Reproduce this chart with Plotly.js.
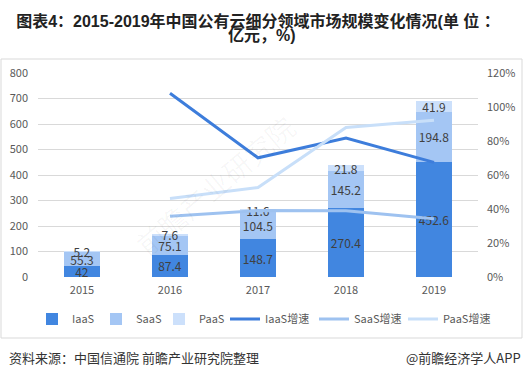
<!DOCTYPE html>
<html>
<head>
<meta charset="utf-8">
<script src="https://cdn.plot.ly/plotly-3.0.1.min.js"></script>
<style>html,body{margin:0;padding:0;background:#fff;}#chart{width:524px;height:378px;}</style>
</head>
<body>
<div id="chart"></div>
<script>
const years = ['2015', '2016', '2017', '2018', '2019'];
const iaas = [42, 87.4, 148.7, 270.4, 452.6];
const saas = [55.3, 75.1, 104.5, 145.2, 194.8];
const paas = [5.2, 7.6, 11.6, 21.8, 41.9];
const growthYears = ['2016', '2017', '2018', '2019'];
const iaasGrowth = [108.1, 70.1, 81.8, 67.4];
const saasGrowth = [35.8, 39.1, 38.9, 34.2];
const paasGrowth = [46.2, 52.6, 87.9, 92.2];
const titleLine1 = '图表4：2015-2019年中国公有云细分领域市场规模变化情况(单 位 ：';
const titleLine2 = '亿元，%)';
const source = '资料来源：中国信通院 前瞻产业研究院整理';
const credit = '@前瞻经济学人APP';

const FONT = 'Liberation Sans, Noto Sans CJK SC, sans-serif';
const CJK = 'Noto Sans CJK SC, sans-serif';
const C1 = '#4186e0', C2 = '#a4c6f4', C3 = '#cce0fb';

function barTrace(name, vals, color, leg) {
  return {
    type: 'bar', name: name, x: years, y: vals, legend: leg,
    marker: {color: color, line: {width: 0}},
    text: vals.map(v => String(v)), textposition: 'inside',
    insidetextanchor: 'middle', textangle: 0, constraintext: 'none',
    textfont: {family: CJK, size: 12, color: '#404040'},
    hoverinfo: 'skip'
  };
}
function lineTrace(name, vals, color) {
  return {
    type: 'scatter', mode: 'lines', name: name, x: growthYears, y: vals,
    yaxis: 'y2', legend: 'legend2', line: {color: color, width: 3}, hoverinfo: 'skip'
  };
}

const data = [
  barTrace('IaaS', iaas, C1, 'legend'),
  barTrace('SaaS', saas, C2, 'legend3'),
  barTrace('PaaS', paas, C3, 'legend4'),
  lineTrace('IaaS增速', iaasGrowth, '#3d7ddb'),
  lineTrace('SaaS增速', saasGrowth, '#9ec2f0'),
  lineTrace('PaaS增速', paasGrowth, '#c8dff9')
];

const legendFont = {family: CJK, size: 11, color: '#595959'};
const legY = (277 - 319) / 204;
function barLegend(px) {
  return {
    orientation: 'h', x: (px - 38) / 440, xanchor: 'left', y: legY, yanchor: 'middle',
    font: legendFont, traceorder: 'normal', itemwidth: 30, bgcolor: 'rgba(0,0,0,0)'
  };
}

const layout = {
  width: 524, height: 378,
  margin: {l: 38, r: 46, t: 73, b: 101},
  paper_bgcolor: '#fff', plot_bgcolor: '#fff',
  barmode: 'stack', bargap: 0.6,
  showlegend: true,
  uniformtext: {mode: 'show', minsize: 12},
  font: {family: CJK, color: '#595959', size: 11},
  title: {
    text: '<b>' + titleLine1 + '</b>',
    font: {family: FONT, size: 16, color: '#222'},
    x: 0.5, xref: 'paper', xanchor: 'center',
    y: 1 - 21 / 378, yref: 'container', yanchor: 'middle'
  },
  xaxis: {
    type: 'category', range: [-0.5, 4.5], showgrid: false, zeroline: false,
    showline: false, ticks: '', ticklabelstandoff: 5,
    tickfont: {family: CJK, size: 11, color: '#595959'}, fixedrange: true
  },
  yaxis: {
    range: [0, 800], dtick: 100, showgrid: true, gridcolor: '#d9d9d9', gridwidth: 1,
    zeroline: false, showline: false, ticks: '', ticklabelstandoff: 9,
    tickfont: {family: CJK, size: 11, color: '#595959'}, fixedrange: true
  },
  yaxis2: {
    overlaying: 'y', side: 'right', range: [0, 120], dtick: 20, ticksuffix: '%',
    showgrid: false, zeroline: false, showline: false, ticks: '', ticklabelstandoff: 8,
    tickfont: {family: CJK, size: 11, color: '#595959'}, fixedrange: true
  },
  legend: barLegend(32),
  legend3: barLegend(96),
  legend4: barLegend(159),
  legend2: {
    orientation: 'h', x: (225 - 38) / 440, xanchor: 'left', y: legY, yanchor: 'middle',
    font: legendFont, traceorder: 'normal', itemwidth: 30,
    entrywidth: 44, entrywidthmode: 'pixels', bgcolor: 'rgba(0,0,0,0)'
  },
  shapes: [{
    type: 'rect', xref: 'paper', yref: 'paper', layer: 'below',
    x0: (1 - 38) / 440, x1: (522 - 38) / 440,
    y0: (277 - 338) / 204, y1: (277 - 59) / 204,
    line: {color: '#d9d9d9', width: 1}
  }],
  annotations: [
    {text: '<b>' + titleLine2 + '</b>', xref: 'paper', yref: 'paper',
     x: (262 - 38) / 440, y: (277 - 36) / 204, xanchor: 'center', yanchor: 'middle',
     showarrow: false, font: {family: FONT, size: 16, color: '#222'}},
    {text: source, xref: 'paper', yref: 'paper',
     x: (7 - 38) / 440, y: (277 - 357) / 204, xanchor: 'left', yanchor: 'middle',
     showarrow: false, font: {family: CJK, size: 13, color: '#333'}},
    {text: credit, xref: 'paper', yref: 'paper',
     x: (523 - 38) / 440, y: (277 - 357) / 204, xanchor: 'right', yanchor: 'middle',
     showarrow: false, font: {family: CJK, size: 13, color: '#333'}},
    {text: '前瞻产业研究院', xref: 'paper', yref: 'paper',
     x: (215 - 38) / 440, y: (277 - 185) / 204, xanchor: 'center', yanchor: 'middle',
     textangle: -40, showarrow: false, font: {family: CJK, size: 28, color: 'rgba(0,0,0,0.035)'}}
  ]
};

Plotly.newPlot('chart', data, layout, {displayModeBar: false, staticPlot: true});
</script>
</body>
</html>
